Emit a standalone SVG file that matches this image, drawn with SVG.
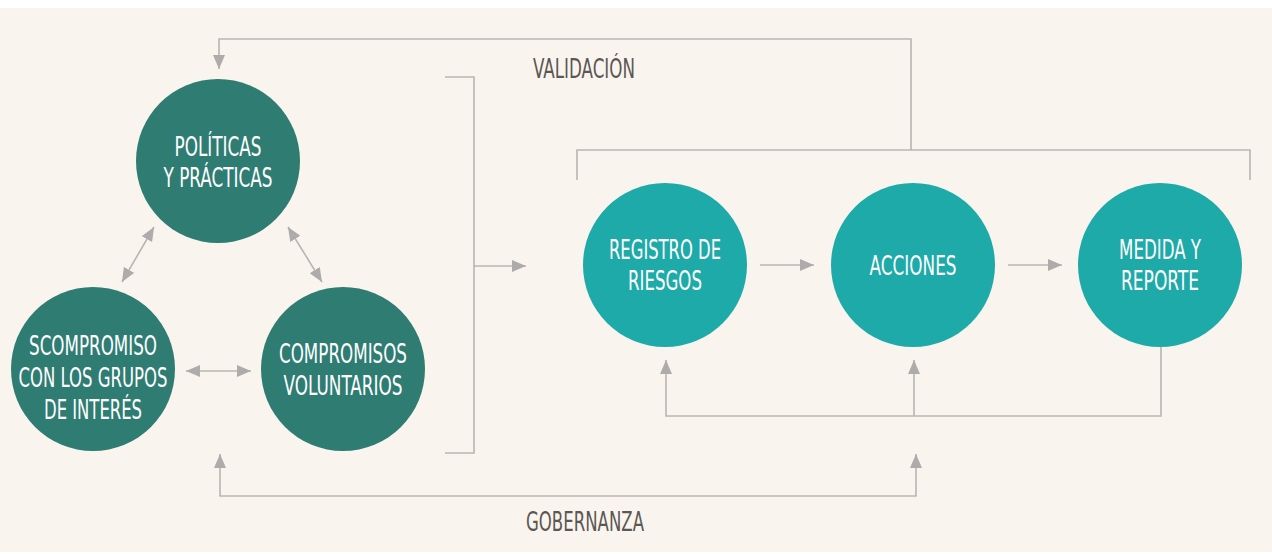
<svg xmlns="http://www.w3.org/2000/svg" width="1272" height="554" viewBox="0 0 1272 554">
<style>
.bg{fill:#f9f5ee}
.dk{fill:#2f7c73}
.lt{fill:#1eaaa8}
.t{font-family:"Liberation Sans Narrow","DejaVu Sans Condensed","Liberation Sans",sans-serif;font-size:26px;fill:#ffffff;text-anchor:middle}
.lbl{font-family:"Liberation Sans Narrow","DejaVu Sans Condensed","Liberation Sans",sans-serif;font-size:26px;fill:#5b5753}
.ln{fill:none;stroke:#b8b6b1;stroke-width:1.6}
</style>
<defs>
<marker id="ah" viewBox="0 0 14 12" refX="14" refY="6" markerWidth="14" markerHeight="12" markerUnits="userSpaceOnUse" orient="auto-start-reverse">
<path d="M0,0 L14,6 L0,12 Z" fill="#adacaa"/>
</marker>
</defs>
<rect x="0" y="0" width="1272" height="554" fill="#ffffff"/>
<rect class="bg" x="0" y="8" width="1272" height="544"/>

<g id="connectors">
<path class="ln" d="M911,150 V39 H219 V69" marker-end="url(#ah)"/>
<path class="ln" d="M577,180 V150 H1250 V180"/>
<path class="ln" d="M445,77 H474 V453 H445"/>
<path class="ln" d="M474,266 H526" marker-end="url(#ah)"/>
<path class="ln" d="M760,265 H814" marker-end="url(#ah)"/>
<path class="ln" d="M1008,265 H1062" marker-end="url(#ah)"/>
<path class="ln" d="M1161,347 V416 H666 V360" marker-end="url(#ah)"/>
<path class="ln" d="M914,416 V360" marker-end="url(#ah)"/>
<path class="ln" d="M220,454 V496 H916 V454" marker-start="url(#ah)" marker-end="url(#ah)"/>
<path class="ln" d="M154,227 L122,282" marker-start="url(#ah)" marker-end="url(#ah)"/>
<path class="ln" d="M288,227 L322,282" marker-start="url(#ah)" marker-end="url(#ah)"/>
<path class="ln" d="M186,371 H251" marker-start="url(#ah)" marker-end="url(#ah)"/>
</g>

<g id="labels">
<text class="lbl" x="533" y="78" textLength="102" lengthAdjust="spacingAndGlyphs">VALIDACIÓN</text>
<text class="lbl" x="526" y="531" textLength="118" lengthAdjust="spacingAndGlyphs">GOBERNANZA</text>
</g>

<g id="node-politicas">
<circle class="dk" cx="218" cy="161" r="82"/>
<text class="t" x="218" y="156" textLength="87" lengthAdjust="spacingAndGlyphs">POLÍTICAS</text>
<text class="t" x="218" y="187" textLength="109" lengthAdjust="spacingAndGlyphs">Y PRÁCTICAS</text>
</g>

<g id="node-scompromiso">
<circle class="dk" cx="93" cy="369" r="82"/>
<text class="t" x="93" y="355" textLength="128" lengthAdjust="spacingAndGlyphs">SCOMPROMISO</text>
<text class="t" x="93" y="387" textLength="149" lengthAdjust="spacingAndGlyphs">CON LOS GRUPOS</text>
<text class="t" x="93" y="419" textLength="98" lengthAdjust="spacingAndGlyphs">DE INTERÉS</text>
</g>

<g id="node-compromisos">
<circle class="dk" cx="343" cy="369" r="82"/>
<text class="t" x="343" y="363" textLength="128" lengthAdjust="spacingAndGlyphs">COMPROMISOS</text>
<text class="t" x="343" y="395" textLength="119" lengthAdjust="spacingAndGlyphs">VOLUNTARIOS</text>
</g>

<g id="node-registro">
<circle class="lt" cx="665" cy="265" r="82"/>
<text class="t" x="665" y="259" textLength="112" lengthAdjust="spacingAndGlyphs">REGISTRO DE</text>
<text class="t" x="665" y="290" textLength="74" lengthAdjust="spacingAndGlyphs">RIESGOS</text>
</g>

<g id="node-acciones">
<circle class="lt" cx="913" cy="265" r="82"/>
<text class="t" x="913" y="275" textLength="87" lengthAdjust="spacingAndGlyphs">ACCIONES</text>
</g>

<g id="node-medida">
<circle class="lt" cx="1160" cy="265" r="82"/>
<text class="t" x="1160" y="259" textLength="82" lengthAdjust="spacingAndGlyphs">MEDIDA Y</text>
<text class="t" x="1160" y="290" textLength="78" lengthAdjust="spacingAndGlyphs">REPORTE</text>
</g>
</svg>
